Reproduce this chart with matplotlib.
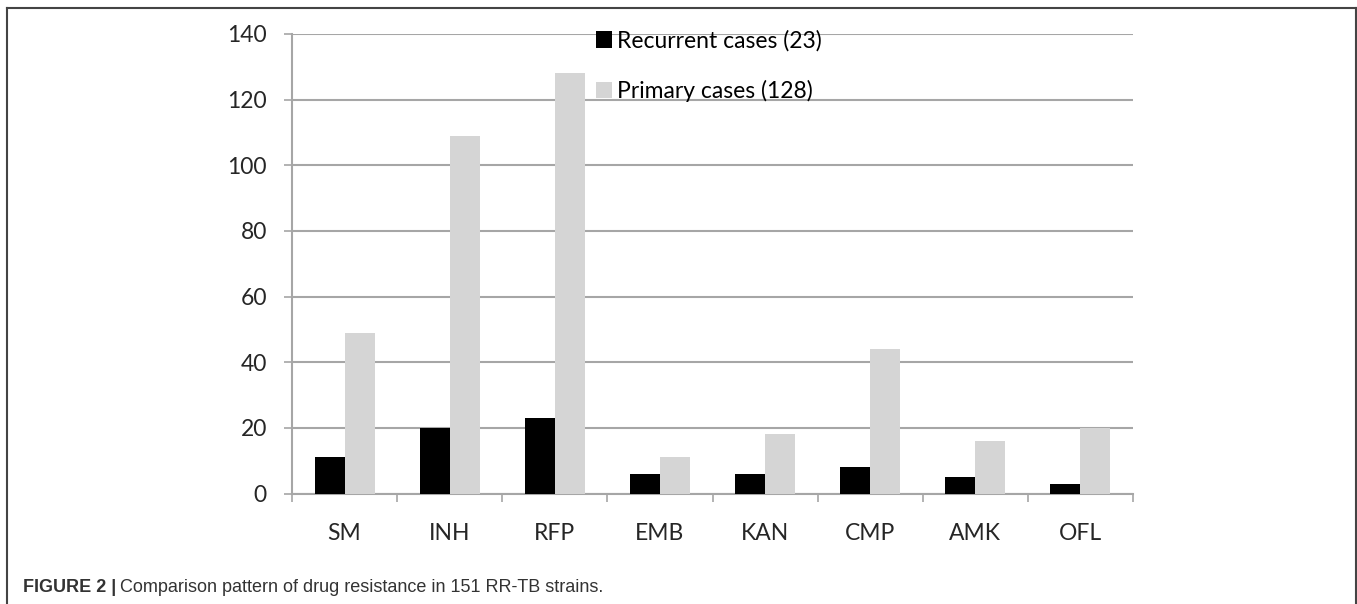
import matplotlib.pyplot as plt
import matplotlib.lines as mlines
import numpy as np

drugs = ['SM', 'INH', 'RFP', 'EMB', 'KAN', 'CMP', 'AMK', 'OFL']
recurrent = [11, 20, 23, 6, 6, 8, 5, 3]
primary = [49, 109, 128, 11, 18, 44, 16, 20]
labels = ['Recurrent cases (23)', 'Primary cases (128)']
caption_bold = 'FIGURE 2 |'
caption_text = 'Comparison pattern of drug resistance in 151 RR-TB strains.'

plt.rcParams['font.family'] = ['Lato', 'DejaVu Sans']

fig = plt.figure(figsize=(13.57, 6.04), dpi=100)
ax = fig.add_axes([292 / 1357, 110.5 / 604, 841 / 1357, 459.5 / 604])

x = np.arange(len(drugs))
w = 0.285
ax.bar(x - w / 2, recurrent, w, color='black', label=labels[0], zorder=3)
ax.bar(x + w / 2, primary, w, color='#d5d5d5', label=labels[1], zorder=3)

ax.set_ylim(0, 140)
ax.set_xlim(-0.5, len(drugs) - 0.5)
ax.set_yticks(range(0, 141, 20))
ax.yaxis.grid(True, color='#a6a6a6', linewidth=1.5, zorder=0)
ax.set_axisbelow(True)

# boundaries as major ticks, labels on minor ticks
ax.set_xticks(np.arange(-0.5, len(drugs), 1.0))
ax.set_xticklabels([])
ax.set_xticks(x, minor=True)
ax.set_xticklabels(drugs, minor=True)
ax.tick_params(axis='x', which='major', length=6, width=1.2, color='#a6a6a6')
ax.tick_params(axis='x', which='minor', length=0, pad=21, labelsize=16.5, labelcolor='#262626')
ax.tick_params(axis='y', length=6, width=1.2, color='#a6a6a6', pad=12, labelsize=16.5, labelcolor='#262626')

for s in ['top', 'right']:
    ax.spines[s].set_visible(False)
for s in ['left', 'bottom']:
    ax.spines[s].set_color('#a6a6a6')
    ax.spines[s].set_linewidth(1.5)

ax.legend(loc='upper left', bbox_to_anchor=(596 / 1357, 1 - 30 / 604),
          bbox_transform=fig.transFigure, frameon=False, fontsize=16.5,
          handlelength=0.7, handleheight=0.7, handletextpad=0.2,
          labelspacing=1.25, borderaxespad=0, borderpad=0)

# outer frame
frame_kw = dict(color='#444444', linewidth=1.5, transform=fig.transFigure)
fig.add_artist(mlines.Line2D([7 / 1357, 7 / 1357], [0, 1 - 8 / 604], **frame_kw))
fig.add_artist(mlines.Line2D([1356 / 1357, 1356 / 1357], [0, 1 - 8 / 604], **frame_kw))
fig.add_artist(mlines.Line2D([7 / 1357, 1356 / 1357], [1 - 8 / 604, 1 - 8 / 604], **frame_kw))

cap_font = ['Liberation Sans', 'DejaVu Sans']
t = fig.text(23 / 1357, 1 - 587 / 604, caption_bold, fontsize=13, fontweight='bold',
             family=cap_font, va='center', color='#333333')
fig.canvas.draw()
bb = t.get_window_extent()
fig.text((bb.x1 + 4) / 1357, 1 - 587 / 604, caption_text, fontsize=13,
         family=cap_font, va='center', color='#333333')

fig.savefig('out.png', dpi=100)
